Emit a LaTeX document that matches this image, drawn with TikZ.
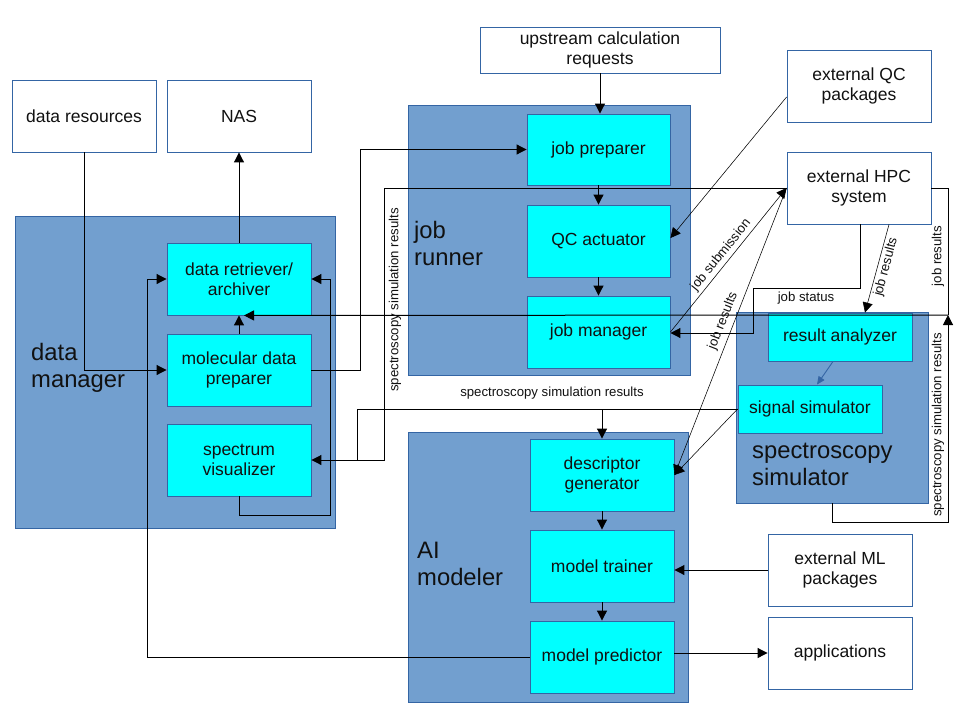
\documentclass[tikz,border=0pt]{standalone}
\usepackage{fontspec}
\setmainfont{Liberation Sans}
\usetikzlibrary{arrows.meta}
\definecolor{bdr}{HTML}{3465A4}
\definecolor{grpfill}{HTML}{729FCF}
\definecolor{cyanbox}{HTML}{00FFFF}
\definecolor{txt}{HTML}{111111}
\begin{document}
\begin{tikzpicture}[x=1pt,y=-1pt,
  boxfont/.style={font=\fontsize{17.5}{20}\selectfont},
  ext/.style={rectangle,draw=bdr,line width=0.9pt,fill=white,inner sep=0pt,
    minimum width=144pt,minimum height=72pt,align=center,boxfont,text=txt},
  comp/.style={ext,fill=cyanbox},
  grp/.style={rectangle,draw=bdr,line width=0.9pt,fill=grpfill,inner sep=0pt},
  grplabel/.style={anchor=west,align=left,inner sep=0pt,text=txt,
    font=\fontsize{23.8}{27}\selectfont},
  lbl/.style={inner sep=0pt,text=txt,font=\fontsize{13.2}{15}\selectfont},
  conn/.style={line width=1pt},
  arr/.style={conn,-{Triangle[length=10pt,width=10pt]}},
  thinarr/.style={line width=0.55pt,-{Triangle[length=10pt,width=10pt]}},
  bluearr/.style={draw=bdr,line width=0.9pt,-{Triangle[length=8pt,width=7pt]}}
]
\useasboundingbox (0,0) rectangle (960,720);
\fill[white] (0,0) rectangle (960,720);

% containers
\node[grp,minimum width=320pt,minimum height=312pt] (dm) at (175,372) {};
\node[grp,minimum width=282pt,minimum height=270pt] (jr) at (549,240) {};
\node[grp,minimum width=280pt,minimum height=270pt] (ai) at (548,567) {};
\node[grp,minimum width=192pt,minimum height=191pt] (ss) at (832,407.5) {};

\node[grplabel] (dmlbl) at (31,368) {data\\manager};
\node[grplabel] (jrlbl) at (414,243) {job\\runner};
\node[grplabel] (ailbl) at (417,564) {AI\\modeler};
\node[grplabel] (sslbl) at (752,464) {spectroscopy\\simulator};

% external boxes
\node[ext] (dres) at (84,116) {data resources};
\node[ext] (nas) at (239,116) {NAS};
\node[ext,minimum width=240pt,minimum height=46pt] (up) at (600,50) {upstream calculation\\requests};
\node[ext] (qcp) at (859,86) {external QC\\packages};
\node[ext] (hpc) at (859,188) {external HPC\\system};
\node[ext] (mlp) at (840,570) {external ML\\packages};
\node[ext] (app) at (840,653) {applications};

% components
\node[comp] (retr) at (239,279) {data retriever/\\archiver};
\node[comp] (prep) at (239,370) {molecular data\\preparer};
\node[comp] (vis) at (239,460) {spectrum\\visualizer};
\node[comp,minimum width=143pt,minimum height=71pt] (jprep) at (598.5,149.5) {job preparer};
\node[comp,minimum width=143pt] (qca) at (598.5,241) {QC actuator};
\node[comp,minimum width=143pt] (jman) at (598.5,332) {job manager};
\node[comp] (desc) at (602,475) {descriptor\\generator};
\node[comp] (train) at (602,566) {model trainer};
\node[comp] (pred) at (602,657) {model predictor};
\node[comp,minimum height=48pt] (ra) at (840,337) {result analyzer};
\node[comp,minimum height=48pt] (sig) at (810,409) {signal simulator};

% named bend points
\coordinate (jn) at (948,315);
\coordinate (js) at (753,288);

% connectors
\draw[arr] (dres.south) |- (prep.west);
\draw[arr] (retr.north) -- (nas.south);
\draw[arr] (prep.north) -- (retr.south);
\draw[arr] (prep.east) -- ++(49,0) |- (jprep.west);
\draw[arr] (up.south) -- (up.south |- jprep.north);
\draw[arr] (jprep.south) -- (qca.north);
\draw[arr] (qca.south) -- (jman.north);
\draw[arr] (desc.south) -- (train.north);
\draw[arr] (train.south) -- (pred.north);
\draw[arr] (mlp.west) -- (mlp.west -| train.east);
\draw[arr] (pred.east |- app.west) -- (app.west);
\draw[arr] (pred.west) -| ([xshift=-19pt]retr.west) -- (retr.west);
\draw[arr] (vis.south) -- ++(0,19) -| ([xshift=19pt]retr.east) -- (retr.east);
\draw[arr] (hpc.west) -| ([xshift=73pt]vis.east) -- (vis.east);
\draw[conn] (sig.west) -| ([xshift=46pt]vis.east);
\draw[arr] (desc.north |- sig.west) -- (desc.north);
\draw[thinarr] ([yshift=-11pt]qcp.west) -- ([yshift=3pt]qca.east);
\draw[thinarr] (jman.east) -- (hpc.west);
\draw[thinarr] (hpc.west) -- (desc.east);
\draw[thinarr] (sig.west) -- (desc.east);
\draw[bluearr] ([xshift=-7pt]ra.south) -- ([xshift=7pt]sig.north);
\draw[arr] ([xshift=1pt]hpc.south) |- (js) |- ([yshift=-1pt]jman.east);
\draw[thinarr] ([xshift=30pt]hpc.south) -- ([xshift=25pt]ra.north);
\draw[conn] (hpc.east) -| (jn);
\draw[arr] (ss.south) -- ++(0,19) -| (jn);
\draw[arr] (jn) -- ([xshift=5pt]retr.south);

% labels
\node[lbl,rotate=90] (l1) at (395,300) {spectroscopy simulation results};
\node[lbl] (l2) at (552,393) {spectroscopy simulation results};
\node[lbl,rotate=90] (l3) at (938,425) {spectroscopy simulation results};
\node[lbl,rotate=90] (l4) at (938,256) {job results};
\node[lbl] (l5) at (806,298) {job status};
\node[lbl,rotate=51] (l6) at (721,255) {job submission};
\node[lbl,rotate=68.5] (l7) at (723,321) {job results};
\node[lbl,rotate=75] (l8) at (886,267) {job results};
\end{tikzpicture}
\end{document}
